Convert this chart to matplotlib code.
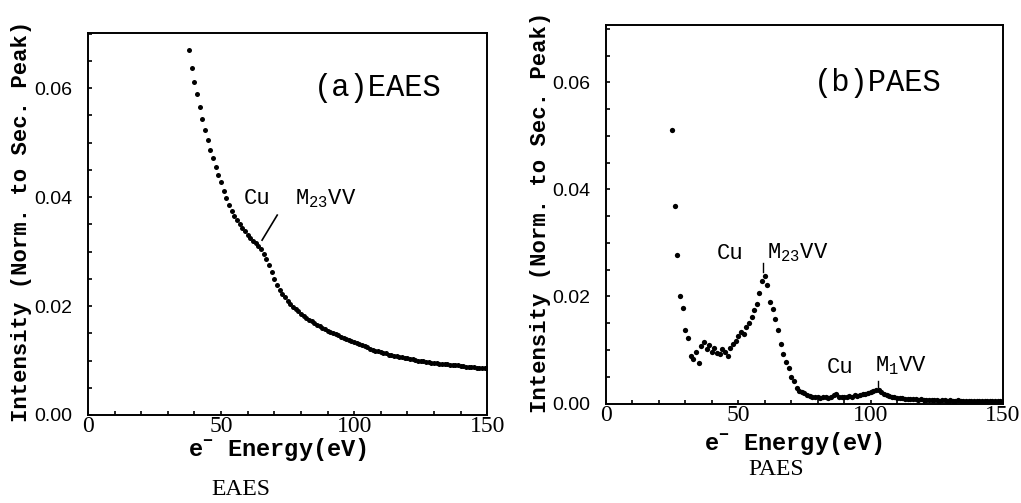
import numpy as np
import matplotlib
matplotlib.use("Agg")
import matplotlib.pyplot as plt
from matplotlib.ticker import MultipleLocator

plt.rcParams["font.family"] = ["Liberation Mono", "DejaVu Sans Mono"]
plt.rcParams["mathtext.fontset"] = "custom"
plt.rcParams["mathtext.rm"] = "Liberation Mono"

# (a) EAES, one point per eV
eaes_energy = np.arange(38, 151)
eaes_intensity = [
    0.0670, 0.0638, 0.0612, 0.0590, 0.0566, 0.0543, 0.0524, 0.0505, 0.0487, 0.0471,  # 38-47
    0.0455, 0.0440, 0.0428, 0.0412, 0.0398, 0.0386, 0.0375, 0.0366, 0.0358, 0.0351,  # 48-57
    0.0344, 0.0337, 0.0331, 0.0325, 0.0320, 0.0315, 0.0310, 0.0304, 0.0296, 0.0287,  # 58-67
    0.0276, 0.0263, 0.0250, 0.0239, 0.0230, 0.0222, 0.0216, 0.0210, 0.0204, 0.0199,  # 68-77
    0.0194, 0.0190, 0.0186, 0.0182, 0.0178, 0.0175, 0.0172, 0.0169, 0.0166, 0.0163,  # 78-87
    0.0160, 0.0157, 0.0155, 0.0153, 0.0150, 0.0148, 0.0146, 0.0144, 0.0142, 0.0140,  # 88-97
    0.0138, 0.0136, 0.0134, 0.0132, 0.0130, 0.0128, 0.0126, 0.0124, 0.0122, 0.0120,  # 98-107
    0.0118, 0.0117, 0.0115, 0.0114, 0.0113, 0.0111, 0.0110, 0.0109, 0.0108, 0.0107,  # 108-117
    0.0106, 0.0105, 0.0104, 0.0103, 0.0102, 0.0101, 0.0100, 0.0099, 0.0099, 0.0098,  # 118-127
    0.0097, 0.0096, 0.0096, 0.0095, 0.0094, 0.0094, 0.0093, 0.0093, 0.0092, 0.0092,  # 128-137
    0.0091, 0.0091, 0.0090, 0.0090, 0.0089, 0.0089, 0.0088, 0.0088, 0.0087, 0.0087,  # 138-147
    0.0087, 0.0086, 0.0086,  # 148-150
]

# (b) PAES, one point per eV
paes_energy = np.arange(25, 151)
paes_intensity = [
    0.0510, 0.0369, 0.0277, 0.0200, 0.0178, 0.0137, 0.0122, 0.0088, 0.0083, 0.0097,  # 25-34
    0.0076, 0.0108, 0.0114, 0.0102, 0.0110, 0.0097, 0.0104, 0.0094, 0.0092, 0.0101,  # 35-44
    0.0097, 0.0089, 0.0104, 0.0112, 0.0116, 0.0127, 0.0133, 0.0130, 0.0142, 0.0150,  # 45-54
    0.0162, 0.0174, 0.0186, 0.0206, 0.0228, 0.0238, 0.0222, 0.0190, 0.0176, 0.0158,  # 55-64
    0.0138, 0.0112, 0.0092, 0.0078, 0.0066, 0.0049, 0.0042, 0.0029, 0.0024, 0.0022,  # 65-74
    0.0019, 0.0016, 0.0014, 0.0013, 0.0012, 0.0013, 0.0011, 0.0012, 0.0013, 0.0011,  # 75-84
    0.0012, 0.0015, 0.0017, 0.0013, 0.0012, 0.0013, 0.0012, 0.0014, 0.0013, 0.0015,  # 85-94
    0.0014, 0.0016, 0.0017, 0.0018, 0.0019, 0.0021, 0.0023, 0.0025, 0.0026, 0.0021,  # 95-104
    0.0018, 0.0016, 0.0014, 0.0013, 0.0012, 0.0011, 0.0010, 0.0010, 0.0009, 0.0009,  # 105-114
    0.0008, 0.0009, 0.0008, 0.0007, 0.0008, 0.0007, 0.0007, 0.0006, 0.0007, 0.0006,  # 115-124
    0.0006, 0.0005, 0.0006, 0.0006, 0.0005, 0.0006, 0.0005, 0.0005, 0.0006, 0.0005,  # 125-134
    0.0005, 0.0004, 0.0005, 0.0005, 0.0004, 0.0005, 0.0004, 0.0004, 0.0005, 0.0004,  # 135-144
    0.0004, 0.0004, 0.0005, 0.0004, 0.0004, 0.0004,  # 145-150
]

x_ticks = [0, 50, 100, 150]
y_ticks = [0.00, 0.02, 0.04, 0.06]
y_label = "Intensity (Norm. to Sec. Peak)"
x_label = r"e$^{\mathregular{-}}$ Energy(eV)"


def style_axes(ax, ytop):
    ax.set_xlim(0, 150)
    ax.set_ylim(0, ytop)
    ax.set_xticks(x_ticks)
    ax.set_yticks(y_ticks)
    ax.set_yticklabels([f"{v:.2f}" for v in y_ticks], family="Liberation Sans", fontsize=14)
    ax.set_xticklabels([str(v) for v in x_ticks], family="Liberation Serif", fontsize=17)
    ax.xaxis.set_minor_locator(MultipleLocator(10))
    ax.yaxis.set_minor_locator(MultipleLocator(0.005))
    ax.tick_params(which="both", direction="in", length=3, width=1.2, top=False, right=False)
    ax.tick_params(axis="y", pad=11)
    ax.tick_params(axis="x", pad=1)
    for s in ax.spines.values():
        s.set_linewidth(1.4)


fig = plt.figure(figsize=(10.21, 5.03), dpi=100)

# left panel
ax1 = fig.add_axes([0.0862, 0.175, 0.391, 0.759])
ax1.plot(eaes_energy, eaes_intensity, "o", color="black", markersize=3.6, markeredgewidth=0)
style_axes(ax1, 0.0701)
ax1.text(0.726, 0.856, "(a)EAES", transform=ax1.transAxes, fontsize=22, ha="center", va="center")
ax1.text(63.5, 0.0398, "Cu", fontsize=16, ha="center", va="center")
ax1.text(89.5, 0.0398, r"M$_{\mathregular{23}}$VV", fontsize=16, ha="center", va="center")
ax1.plot([71.1, 65.4], [0.0367, 0.0321], color="black", lw=1.2)

# right panel
ax2 = fig.add_axes([0.5935, 0.1978, 0.3889, 0.7525])
ax2.plot(paes_energy, paes_intensity, "o", color="black", markersize=3.8, markeredgewidth=0)
style_axes(ax2, 0.0707)
ax2.text(0.685, 0.847, "(b)PAES", transform=ax2.transAxes, fontsize=22, ha="center", va="center")
ax2.text(46.8, 0.0281, "Cu", fontsize=16, ha="center", va="center")
ax2.text(72.5, 0.0281, r"M$_{\mathregular{23}}$VV", fontsize=16, ha="center", va="center")
ax2.plot([59.3, 59.3], [0.0246, 0.0263], color="black", lw=1.0)
ax2.text(88.4, 0.0068, "Cu", fontsize=16, ha="center", va="center")
ax2.text(111.5, 0.0071, r"M$_{\mathregular{1}}$VV", fontsize=16, ha="center", va="center")
ax2.plot([102.8, 102.8], [0.0031, 0.0042], color="black", lw=1.0)

# axis titles placed like the scan
fig.text(0.0215, 0.56, y_label, rotation=90, fontsize=16, fontweight="bold", ha="center", va="center")
fig.text(0.529, 0.578, y_label, rotation=90, fontsize=16, fontweight="bold", ha="center", va="center")
fig.text(0.272, 0.106, x_label, fontsize=17, fontweight="bold", ha="center", va="center")
fig.text(0.777, 0.119, x_label, fontsize=17, fontweight="bold", ha="center", va="center")

# captions under the panels
fig.text(0.236, 0.026, "EAES", family="Liberation Serif", fontsize=17, ha="center", va="center")
fig.text(0.760, 0.066, "PAES", family="Liberation Serif", fontsize=17, ha="center", va="center")

fig.savefig("out.png", dpi=100)
